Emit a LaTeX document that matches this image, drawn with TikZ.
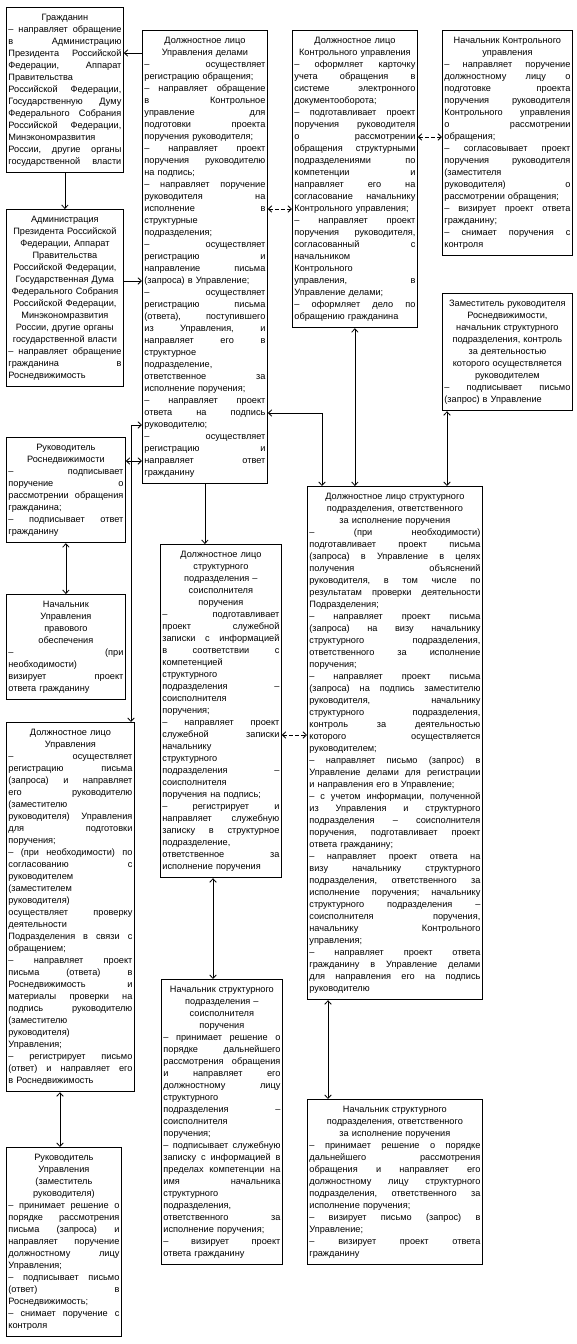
\documentclass[tikz,border=0pt]{standalone}
\usepackage{fontspec}
\setmainfont{Liberation Sans}
\usetikzlibrary{arrows.meta}
\setlength\normallineskiplimit{-5pt}
\newcommand\bxfont{\fontsize{9.2}{12}\selectfont}
\newcommand\xs{\rule[-3.4pt]{0pt}{11.4pt}}
\newcommand\xj[1]{\noindent\makebox[\linewidth][s]{\frenchspacing\spaceskip=0.26em plus 1fil\relax\xs#1}\par}
\newcommand\xc[1]{\noindent\makebox[\linewidth][c]{\xs#1}\par}
\newcommand\xl[1]{\noindent\makebox[\linewidth][l]{\xs#1}\par}
\tikzset{
  box/.style={draw, line width=0.8pt, anchor=north west, inner xsep=2pt, inner ysep=5pt, font=\bxfont},
  conn/.style={line width=0.8pt},
  dconn/.style={line width=0.8pt, dash pattern=on 4pt off 2pt},
  >={Straight Barb[length=3.5pt,width=6.5pt]}
}
\begin{document}
\begin{tikzpicture}[x=1pt,y=-1pt]
\fill[white] (0,0) rectangle (577,1344);
\useasboundingbox (0,0) rectangle (577,1344);

\node[box, text width=113pt] (B1) at (6,7) {%
\xc{Гражданин}
\xj{– направляет обращение}
\xj{в Администрацию}
\xj{Президента Российской}
\xj{Федерации, Аппарат}
\xl{Правительства}
\xj{Российской Федерации,}
\xj{Государственную Думу}
\xj{Федерального Собрания}
\xj{Российской Федерации,}
\xl{Минэкономразвития}
\xj{России, другие органы}
\xj{государственной власти}};

\node[box, text width=113pt] (B2) at (6,209) {%
\xc{Администрация}
\xc{Президента Российской}
\xc{Федерации, Аппарат}
\xc{Правительства}
\xc{Российской Федерации,}
\xc{Государственная Дума}
\xc{Федерального Собрания}
\xc{Российской Федерации,}
\xc{Минэкономразвития}
\xc{России, другие органы}
\xc{государственной власти}
\xj{– направляет обращение}
\xj{гражданина в}
\xl{Роснедвижимость}};

\node[box, text width=121pt] (B3) at (142,30) {%
\xc{Должностное лицо}
\xc{Управления делами}
\xj{– осуществляет}
\xl{регистрацию обращения;}
\xj{– направляет обращение}
\xj{в Контрольное}
\xj{управление для}
\xj{подготовки проекта}
\xl{поручения руководителя;}
\xj{– направляет проект}
\xj{поручения руководителю}
\xl{на подпись;}
\xj{– направляет поручение}
\xj{руководителя на}
\xj{исполнение в}
\xl{структурные}
\xl{подразделения;}
\xj{– осуществляет}
\xj{регистрацию и}
\xj{направление письма}
\xl{(запроса) в Управление;}
\xj{– осуществляет}
\xj{регистрацию письма}
\xj{(ответа), поступившего}
\xj{из Управления, и}
\xj{направляет его в}
\xl{структурное}
\xl{подразделение,}
\xj{ответственное за}
\xl{исполнение поручения;}
\xj{– направляет проект}
\xj{ответа на подпись}
\xl{руководителю;}
\xj{– осуществляет}
\xj{регистрацию и}
\xj{направляет ответ}
\xl{гражданину}};

\node[box, text width=121pt] (B4) at (292,30) {%
\xc{Должностное лицо}
\xc{Контрольного управления}
\xj{– оформляет карточку}
\xj{учета обращения в}
\xj{системе электронного}
\xl{документооборота;}
\xj{– подготавливает проект}
\xj{поручения руководителя}
\xj{о рассмотрении}
\xj{обращения структурными}
\xj{подразделениями по}
\xj{компетенции и}
\xj{направляет его на}
\xj{согласование начальнику}
\xl{Контрольного управления;}
\xj{– направляет проект}
\xj{поручения руководителя,}
\xj{согласованный с}
\xl{начальником}
\xl{Контрольного}
\xj{управления, в}
\xl{Управление делами;}
\xj{– оформляет дело по}
\xl{обращению гражданина}};

\node[box, text width=126pt] (B5) at (442,30) {%
\xc{Начальник Контрольного}
\xc{управления}
\xj{– направляет поручение}
\xj{должностному лицу о}
\xj{подготовке проекта}
\xj{поручения руководителя}
\xj{Контрольного управления}
\xj{о рассмотрении}
\xl{обращения;}
\xj{– согласовывает проект}
\xj{поручения руководителя}
\xl{(заместителя}
\xj{руководителя) о}
\xl{рассмотрении обращения;}
\xj{– визирует проект ответа}
\xl{гражданину;}
\xj{– снимает поручения с}
\xl{контроля}};

\node[box, text width=126pt] (B6) at (442,293) {%
\xc{Заместитель руководителя}
\xc{Роснедвижимости,}
\xc{начальник структурного}
\xc{подразделения, контроль}
\xc{за деятельностью}
\xc{которого осуществляется}
\xc{руководителем}
\xj{– подписывает письмо}
\xl{(запрос) в Управление}};

\node[box, text width=171pt] (B7) at (307,486) {%
\xc{Должностное лицо структурного}
\xc{подразделения, ответственного}
\xc{за исполнение поручения}
\xj{– (при необходимости)}
\xj{подготавливает проект письма}
\xj{(запроса) в Управление в целях}
\xj{получения объяснений}
\xj{руководителя, в том числе по}
\xj{результатам проверки деятельности}
\xl{Подразделения;}
\xj{– направляет проект письма}
\xj{(запроса) на визу начальнику}
\xj{структурного подразделения,}
\xj{ответственного за исполнение}
\xl{поручения;}
\xj{– направляет проект письма}
\xj{(запроса) на подпись заместителю}
\xj{руководителя, начальнику}
\xj{структурного подразделения,}
\xj{контроль за деятельностью}
\xj{которого осуществляется}
\xl{руководителем;}
\xj{– направляет письмо (запрос) в}
\xj{Управление делами для регистрации}
\xl{и направления его в Управление;}
\xj{– с учетом информации, полученной}
\xj{из Управления и структурного}
\xj{подразделения – соисполнителя}
\xj{поручения, подготавливает проект}
\xl{ответа гражданину;}
\xj{– направляет проект ответа на}
\xj{визу начальнику структурного}
\xj{подразделения, ответственного за}
\xj{исполнение поручения; начальнику}
\xj{структурного подразделения –}
\xj{соисполнителя поручения,}
\xj{начальнику Контрольного}
\xl{управления;}
\xj{– направляет проект ответа}
\xj{гражданину в Управление делами}
\xj{для направления его на подпись}
\xl{руководителю}};

\node[box, text width=115pt] (B8) at (6,437) {%
\xc{Руководитель}
\xc{Роснедвижимости}
\xj{– подписывает}
\xj{поручение о}
\xj{рассмотрении обращения}
\xl{гражданина;}
\xj{– подписывает ответ}
\xl{гражданину}};

\node[box, text width=115pt] (B9) at (6,594) {%
\xc{Начальник}
\xc{Управления}
\xc{правового}
\xc{обеспечения}
\xj{– (при}
\xl{необходимости)}
\xj{визирует проект}
\xl{ответа гражданину}};

\node[box, text width=124pt] (B10) at (6,722) {%
\xc{Должностное лицо}
\xc{Управления}
\xj{– осуществляет}
\xj{регистрацию письма}
\xj{(запроса) и направляет}
\xj{его руководителю}
\xl{(заместителю}
\xj{руководителя) Управления}
\xj{для подготовки}
\xl{поручения;}
\xj{– (при необходимости) по}
\xj{согласованию с}
\xl{руководителем}
\xl{(заместителем}
\xl{руководителя)}
\xj{осуществляет проверку}
\xl{деятельности}
\xj{Подразделения в связи с}
\xl{обращением;}
\xj{– направляет проект}
\xj{письма (ответа) в}
\xj{Роснедвижимость и}
\xj{материалы проверки на}
\xj{подпись руководителю}
\xl{(заместителю}
\xl{руководителя)}
\xl{Управления;}
\xj{– регистрирует письмо}
\xj{(ответ) и направляет его}
\xl{в Роснедвижимость}};

\node[box, text width=111pt] (B11) at (6,1147) {%
\xc{Руководитель}
\xc{Управления}
\xc{(заместитель}
\xc{руководителя)}
\xj{– принимает решение о}
\xj{порядке рассмотрения}
\xj{письма (запроса) и}
\xj{направляет поручение}
\xj{должностному лицу}
\xl{Управления;}
\xj{– подписывает письмо}
\xj{(ответ) в}
\xl{Роснедвижимость;}
\xj{– снимает поручение с}
\xl{контроля}};

\node[box, text width=117pt] (B12) at (160,544) {%
\xc{Должностное лицо}
\xc{структурного}
\xc{подразделения –}
\xc{соисполнителя}
\xc{поручения}
\xj{– подготавливает}
\xj{проект служебной}
\xj{записки с информацией}
\xj{в соответствии с}
\xl{компетенцией}
\xl{структурного}
\xj{подразделения –}
\xl{соисполнителя}
\xl{поручения;}
\xj{– направляет проект}
\xj{служебной записки}
\xl{начальнику}
\xl{структурного}
\xj{подразделения –}
\xl{соисполнителя}
\xl{поручения на подпись;}
\xj{– регистрирует и}
\xj{направляет служебную}
\xj{записку в структурное}
\xl{подразделение,}
\xj{ответственное за}
\xl{исполнение поручения}};

\node[box, text width=117pt] (B13) at (161,979) {%
\xc{Начальник структурного}
\xc{подразделения –}
\xc{соисполнителя}
\xc{поручения}
\xj{– принимает решение о}
\xj{порядке дальнейшего}
\xj{рассмотрения обращения}
\xj{и направляет его}
\xj{должностному лицу}
\xl{структурного}
\xj{подразделения –}
\xl{соисполнителя}
\xl{поручения;}
\xj{– подписывает служебную}
\xj{записку с информацией в}
\xj{пределах компетенции на}
\xj{имя начальника}
\xl{структурного}
\xl{подразделения,}
\xj{ответственного за}
\xl{исполнение поручения;}
\xj{– визирует проект}
\xl{ответа гражданину}};

\node[box, text width=171pt] (B14) at (307,1099) {%
\xc{Начальник структурного}
\xc{подразделения, ответственного}
\xc{за исполнение поручения}
\xj{– принимает решение о порядке}
\xj{дальнейшего рассмотрения}
\xj{обращения и направляет его}
\xj{должностному лицу структурного}
\xj{подразделения, ответственного за}
\xl{исполнение поручения;}
\xj{– визирует письмо (запрос) в}
\xl{Управление;}
\xj{– визирует проект ответа}
\xl{гражданину}};

% row / column helper coordinates
\coordinate (r1) at (0,53);
\coordinate (r2) at (0,281);
\coordinate (r3) at (0,209);
\coordinate (r4) at (0,137);
\coordinate (r5) at (0,413);
\coordinate (r6) at (0,425);
\coordinate (r7) at (0,461);
\coordinate (r8) at (0,735);
\coordinate (c1) at (322,0);
\coordinate (c2) at (131,0);
\coordinate (c3) at (447,0);
\coordinate (c4) at (213,0);
\coordinate (c5) at (328,0);
\coordinate (c6) at (60,0);

% connectors
\draw[conn,->] (B3.west |- r1) -- (B1.east |- r1);
\draw[conn,->] (B1.south) -- (B2.north);
\draw[conn,->] (B2.east |- r2) -- (B3.west |- r2);
\draw[dconn,<->] (B3.east |- r3) -- (B4.west |- r3);
\draw[dconn,<->] (B4.east |- r4) -- (B5.west |- r4);
\draw[conn,<->] (B3.east |- r5) -- (c1 |- r5) -- (c1 |- B7.north);
\draw[conn,<->] (B4.south) -- (B4.south |- B7.north);
\draw[conn,<->] (B6.south -| c3) -- (c3 |- B7.north);
\draw[conn,<->] (B3.west |- r6) -- (c2 |- r6) -- (c2 |- B10.north);
\draw[conn,<->] (B8.east |- r7) -- (B3.west |- r7);
\draw[conn,<->] (B8.south) -- (B9.north);
\draw[conn,<->] (B10.south -| c6) -- (c6 |- B11.north);
\draw[conn,->] (B3.south) -- (B3.south |- B12.north);
\draw[conn,<->] (B12.south -| c4) -- (c4 |- B13.north);
\draw[dconn,<->] (B12.east |- r8) -- (B7.west |- r8);
\draw[conn,<->] (B7.south -| c5) -- (c5 |- B14.north);
\end{tikzpicture}
\end{document}
